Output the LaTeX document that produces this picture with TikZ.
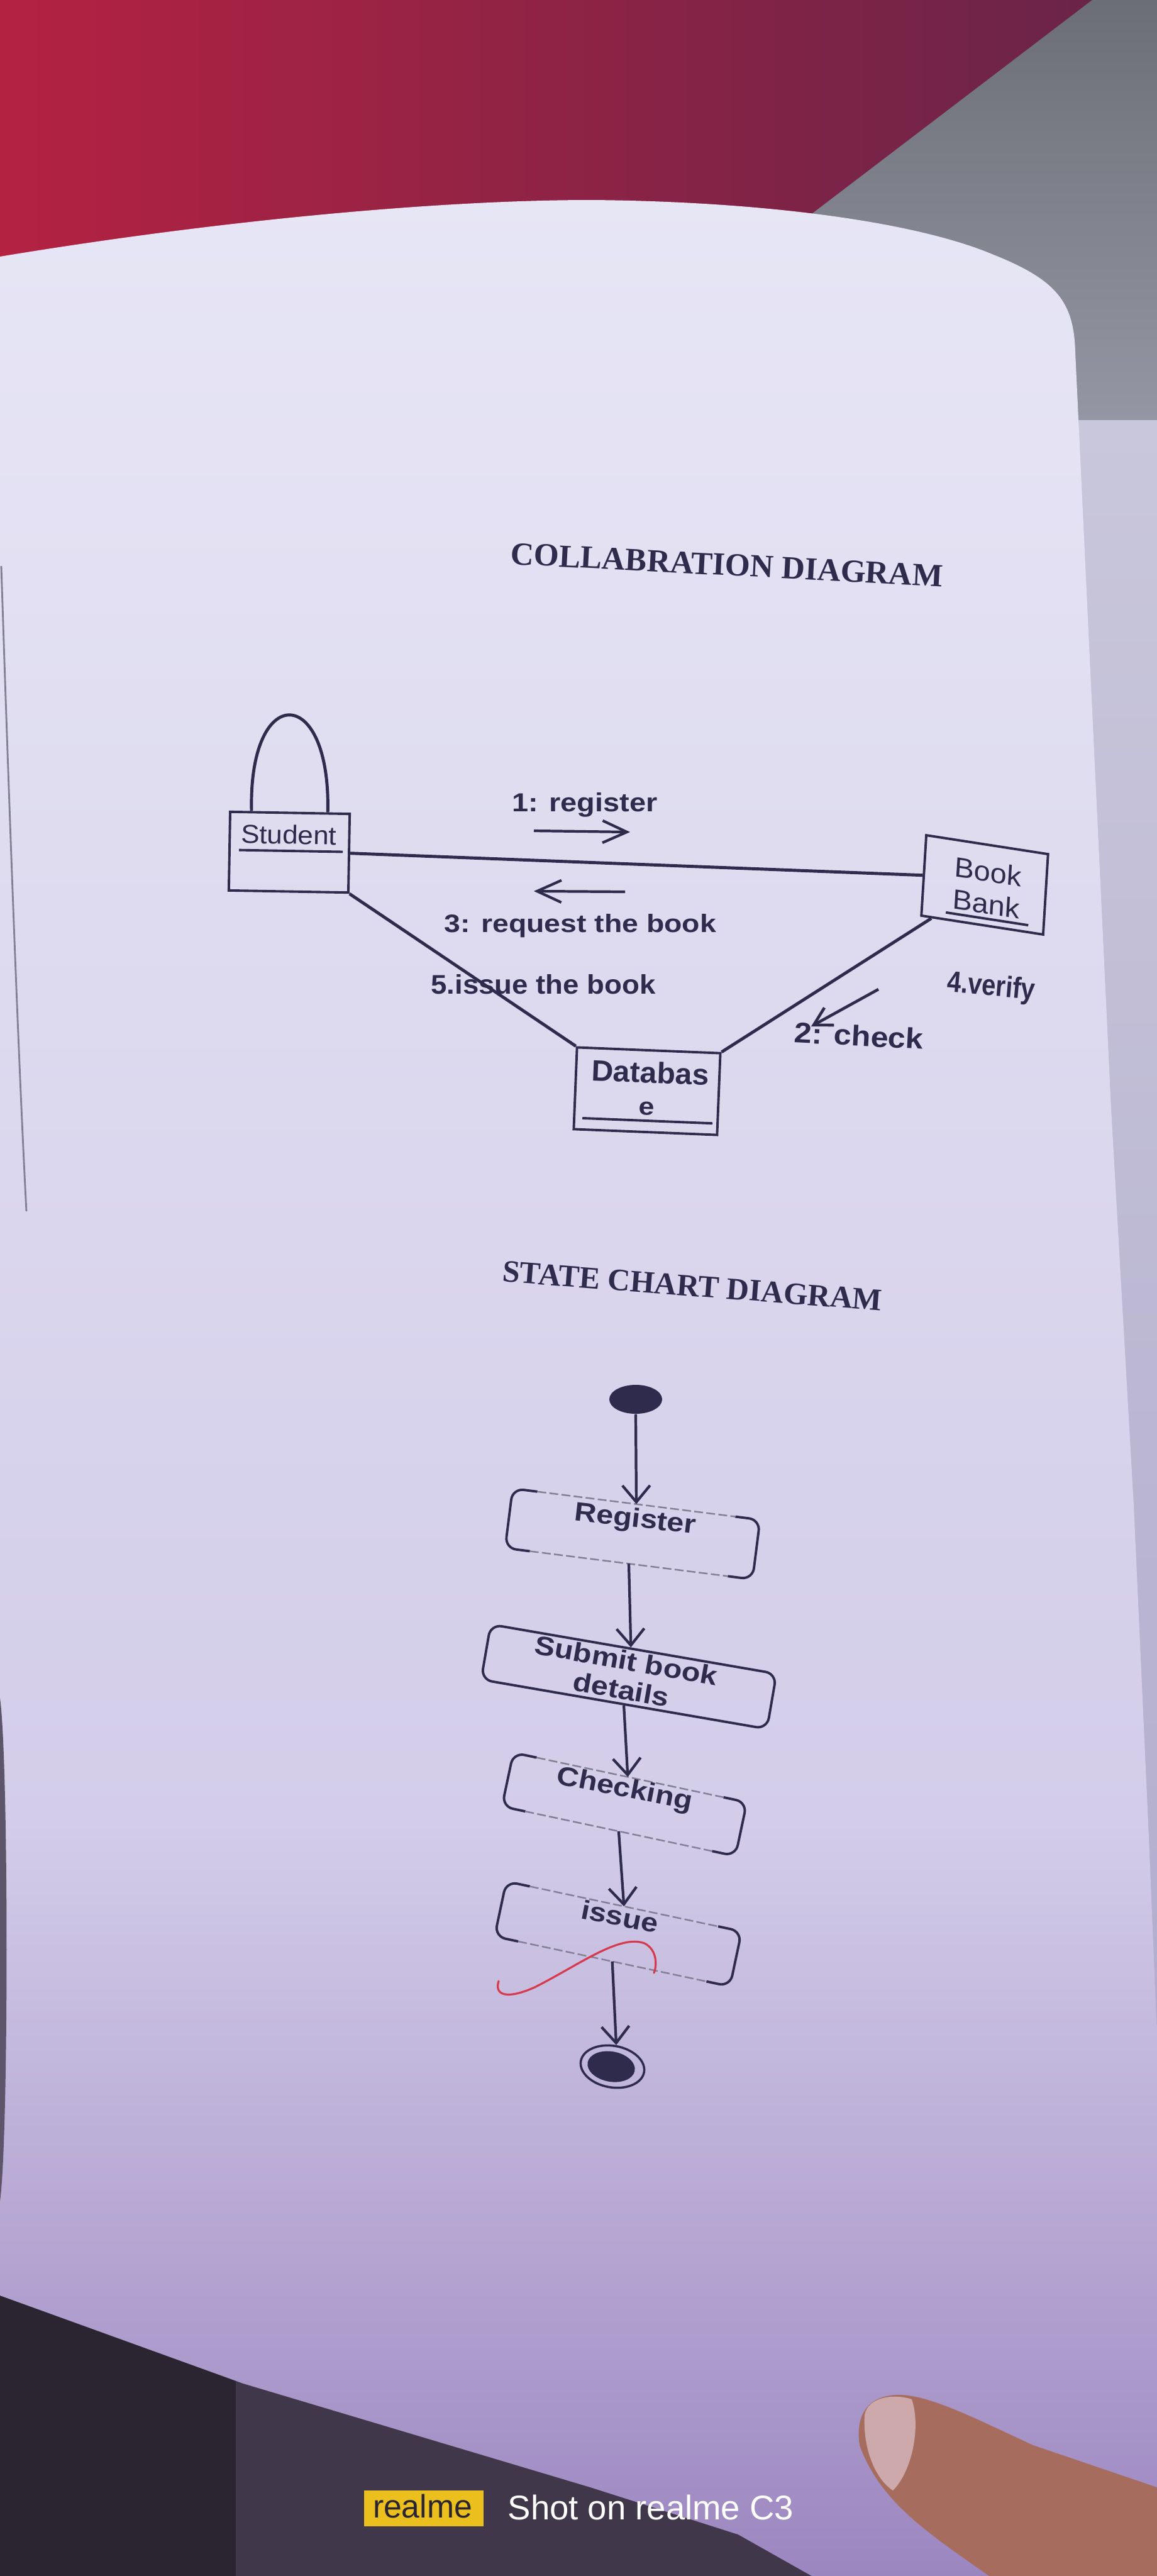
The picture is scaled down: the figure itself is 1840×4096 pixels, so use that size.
\documentclass[tikz,border=0pt]{standalone}
\usepackage{fontspec}
\usepackage{graphicx}
\setmainfont{Liberation Serif}
\setsansfont{Liberation Sans}
\usetikzlibrary{arrows.meta,calc,shapes.geometric}
\definecolor{ink}{HTML}{2E2B4C}
\definecolor{papertop}{HTML}{E7E6F5}
\definecolor{papermid}{HTML}{D3CDE9}
\definecolor{paperbot}{HTML}{9C86C0}
\definecolor{sheettop}{HTML}{C9C7DB}
\definecolor{sheetbot}{HTML}{AFA9CB}
\definecolor{clothL}{HTML}{B42242}
\definecolor{clothR}{HTML}{6A2448}
\definecolor{greytop}{HTML}{6C6E77}
\definecolor{greybot}{HTML}{9C9EAC}
\definecolor{darkbg}{HTML}{40384A}
\definecolor{darker}{HTML}{2A2530}
\definecolor{skin}{HTML}{A66C5E}
\definecolor{nailc}{HTML}{CDA9AC}
\definecolor{realmeyellow}{HTML}{EBC01E}
\definecolor{pen}{HTML}{D63A4C}
\newcommand\stbrackets[1]{%
  \draw[bracket] ($(#1.north west)!0.1!(#1.north east)$) -- (#1.north west) -- (#1.south west) -- ($(#1.south west)!0.1!(#1.south east)$);
  \draw[bracket] ($(#1.north east)!0.1!(#1.north west)$) -- (#1.north east) -- (#1.south east) -- ($(#1.south east)!0.1!(#1.south west)$);
  \draw[faintedge] ($(#1.north west)!0.1!(#1.north east)$) -- ($(#1.north east)!0.1!(#1.north west)$);
  \draw[faintedge] ($(#1.south west)!0.1!(#1.south east)$) -- ($(#1.south east)!0.1!(#1.south west)$);}
\begin{document}
\begin{tikzpicture}[x=0.01cm,y=-0.01cm,
  umlbox/.style={draw=ink, line width=1.1pt, inner sep=0pt},
  lbl/.style={inner sep=0pt, text=ink, font=\sffamily},
  blbl/.style={inner sep=0pt, text=ink, font=\sffamily\bfseries},
  uline/.style={draw=ink, line width=1.1pt},
  link/.style={draw=ink, line width=1.4pt},
  msg/.style={draw=ink, line width=1.2pt, -{Straight Barb[length=11pt,width=10pt]}},
  msgtwo/.style={draw=ink, line width=1.3pt, -{Straight Barb[length=8pt,width=9pt]}},
  titletext/.style={inner sep=0pt, text=ink},
  statebox/.style={inner sep=0pt},
  solidstate/.style={draw=ink, line width=1.1pt, rounded corners=5pt, inner sep=0pt},
  bracket/.style={draw=ink, line width=1.1pt, rounded corners=5pt},
  faintedge/.style={draw=ink!60, line width=0.7pt, dash pattern=on 4pt off 1.5pt},
  stlbl/.style={inner sep=0pt, text=ink, font=\fontsize{12}{12.2}\selectfont\sffamily\bfseries},
  trans/.style={draw=ink, line width=1.2pt, -{Straight Barb[length=7.5pt,width=12.5pt]}},
  redpen/.style={draw=pen, line width=0.9pt, line cap=round}]
\useasboundingbox (0,0) rectangle (1840,4096);
% ---------- photo background ----------
\fill[darkbg] (0,0) rectangle (1840,4096);
\fill[darker] (0,3550) rectangle (375,4096);
\shade[left color=clothL, right color=clothR] (0,0) -- (1737,0) -- (1291,340) -- (0,700) -- cycle;
\shade[top color=greytop, bottom color=greybot] (1737,0) -- (1840,0) -- (1840,800) -- (1690,800) -- (1291,340) -- cycle;
\shade[top color=sheettop, bottom color=sheetbot] (1690,668) rectangle (1840,3700);
\begin{scope}
  \clip (0,408) .. controls (350,350) and (700,318) .. (940,318)
  .. controls (1200,320) and (1450,350) .. (1580,405)
  .. controls (1680,445) and (1708,480) .. (1710,560)
  -- (1737,1131) -- (1767,1763) -- (1803,2394) -- (1827,2921) -- (1840,3237)
  -- (1840,4096) -- (1291,4096) -- (1174,4030) -- (939,3955) -- (387,3790) -- (0,3650) -- cycle;
  \shade[top color=papertop, bottom color=papermid] (0,300) rectangle (1840,2901);
  \shade[top color=papermid, bottom color=paperbot] (0,2900) rectangle (1840,4096);
\end{scope}
\fill[darkbg!80!papermid] (0,2700) .. controls (14,2800) and (14,3400) .. (0,3500) -- cycle;
\draw[ink!60, line width=0.8pt] (2,900) .. controls (15,1300) and (30,1700) .. (42,1926);
\fill[skin] (1367,3888) .. controls (1360,3840) and (1380,3808) .. (1430,3808)
  .. controls (1480,3808) and (1560,3850) .. (1643,3888) -- (1840,3955) -- (1840,4096) -- (1573,4096)
  .. controls (1480,4030) and (1400,3980) .. (1367,3888) -- cycle;
\fill[nailc] (1375,3840) .. controls (1380,3812) and (1420,3805) .. (1450,3815)
  .. controls (1465,3860) and (1450,3930) .. (1420,3960)
  .. controls (1390,3940) and (1372,3890) .. (1375,3840) -- cycle;
\fill[realmeyellow] (579,3960) rectangle (769,4017);
\node[inner sep=0pt, anchor=base, text=darker, font=\sffamily\fontsize{14.7}{16}\selectfont] (wm1) at (672,4003) {realme};
\node[inner sep=0pt, anchor=base west, text=white, font=\sffamily\fontsize{15.5}{17}\selectfont] (wm2) at (807,4006) {Shot on realme C3};
% ---------- collaboration diagram ----------
\node[titletext, anchor=base, rotate=-3, font=\fontsize{14.6}{16}\selectfont\bfseries] (t1) at (1155,915) {COLLABRATION DIAGRAM};
\begin{scope}[shift={(460,1355)}, rotate=-1, transform shape]
  \node[umlbox, minimum width=1.90cm, minimum height=1.25cm] (st) at (0,0) {};
  \node[lbl, anchor=base] (stt) at (-1,-13) {\resizebox{1.52cm}{0.30cm}{Student}};
  \draw[uline] (-80,-2) -- (85,-2);
\end{scope}
\begin{scope}[shift={(1566,1407)}, rotate=-3.5, yslant=-0.093, transform shape]
  \node[umlbox, minimum width=1.95cm, minimum height=1.28cm] (bb) at (0,0) {};
  \node[lbl, align=center, font=\sffamily\fontsize{12}{14.5}\selectfont] (bbt) at (4,4)
    {\resizebox{1.07cm}{0.32cm}{Book}\\\resizebox{1.07cm}{0.32cm}{Bank}};
  \draw[uline] (-59,53) -- (73,53);
\end{scope}
\begin{scope}[shift={(1029,1735)}, rotate=-2.3, transform shape]
  \node[umlbox, minimum width=2.28cm, minimum height=1.30cm] (db) at (0,0) {};
  \node[blbl, anchor=base] (dbt1) at (4,-13) {\resizebox{1.87cm}{0.34cm}{Databas}};
  \node[blbl, anchor=base] (dbt2) at (1,38) {\resizebox{0.25cm}{0.21cm}{e}};
  \draw[uline] (-101,47) -- (106,47);
\end{scope}
\draw[link] (st.east) -- (bb.west);
\draw[link] (st.south east) -- (db.north west);
\draw[link] ($(bb.south west)!0.09!(bb.south east)$) -- (db.north east);
\draw[link] ($(st.north west)!0.185!(st.north east)$) .. controls +(-5,-205) and +(5,-205) .. ($(st.north west)!0.81!(st.north east)$);
\coordinate (m1a) at (849,1321); \coordinate (m1b) at (1002,1323);
\draw[msg] (m1a) -- (m1b);
\node[blbl, anchor=base] (m1) at (930,1290) {\resizebox{2.31cm}{0.30cm}{1: register}};
\coordinate (m3a) at (994,1418); \coordinate (m3b) at (849,1417);
\draw[msg] (m3a) -- (m3b);
\node[blbl, anchor=base] (m3) at (923,1482) {\resizebox{4.32cm}{0.29cm}{3: request the book}};
\node[blbl, anchor=base] (m5) at (864,1580) {\resizebox{3.57cm}{0.31cm}{5.issue the book}};
\node[blbl, anchor=base, rotate=-5] (m4) at (1575,1583) {\resizebox{1.40cm}{0.34cm}{4.verify}};
\coordinate (m2a) at (1397,1573); \coordinate (m2b) at (1290,1632);
\draw[msgtwo] (m2a) -- (m2b);
\node[blbl, anchor=base, rotate=-3] (m2) at (1365,1663) {\resizebox{2.06cm}{0.33cm}{2: check}};
% ---------- state chart diagram ----------
\node[titletext, anchor=base, rotate=-4.4, font=\fontsize{14.1}{16}\selectfont\bfseries] (t2) at (1100,2061) {STATE CHART DIAGRAM};
\node[ellipse, fill=ink, minimum width=0.84cm, minimum height=0.46cm, inner sep=0pt] (start) at (1011,2225) {};
\node[statebox, rotate=-7.2, minimum width=3.95cm, minimum height=0.94cm] (reg) at (1006,2439) {};
\stbrackets{reg}
\node[stlbl, anchor=base, rotate=-6.5] (regt) at (1009,2428) {\scalebox{1.15}[1]{Register}};
\node[solidstate, rotate=-9.8, minimum width=4.61cm, minimum height=0.89cm] (sub) at (1000,2666) {};
\node[stlbl, align=center, rotate=-10, font=\fontsize{12}{13.3}\selectfont\sffamily\bfseries] (subt) at (992,2663)
  {\scalebox{1.15}[1]{Submit book}\\\scalebox{1.15}[1]{details}};
\node[statebox, rotate=-12, minimum width=3.78cm, minimum height=0.86cm] (chk) at (993,2869) {};
\stbrackets{chk}
\node[stlbl, anchor=base, rotate=-11] (chkt) at (991,2857) {\scalebox{1.15}[1]{Checking}};
\node[statebox, rotate=-12, minimum width=3.81cm, minimum height=0.88cm] (iss) at (983,3075) {};
\stbrackets{iss}
\node[stlbl, anchor=base, rotate=-11] (isst) at (983,3062) {\scalebox{1.15}[1]{issue}};
\node[ellipse, draw=ink, line width=1pt, minimum width=1.02cm, minimum height=0.66cm, inner sep=0pt, rotate=-10] (fin) at (974,3286) {};
\node[ellipse, fill=ink, minimum width=0.76cm, minimum height=0.48cm, inner sep=0pt, rotate=-10] (finin) at (972,3286) {};
\draw[trans] (start.south) -- (reg.north);
\draw[trans] (reg.south) -- ($(sub.north west)!0.49!(sub.north east)$);
\draw[trans] (sub.south) -- ($(chk.north west)!0.49!(chk.north east)$);
\draw[trans] (chk.south) -- ($(iss.north west)!0.5!(iss.north east)$);
\draw[trans] (iss.south) -- (fin.north);
\draw[redpen] (793,3150) .. controls (786,3172) and (805,3180) .. (850,3160)
  .. controls (920,3125) and (985,3075) .. (1025,3090)
  .. controls (1045,3100) and (1045,3125) .. (1040,3137);
\end{tikzpicture}
\end{document}
